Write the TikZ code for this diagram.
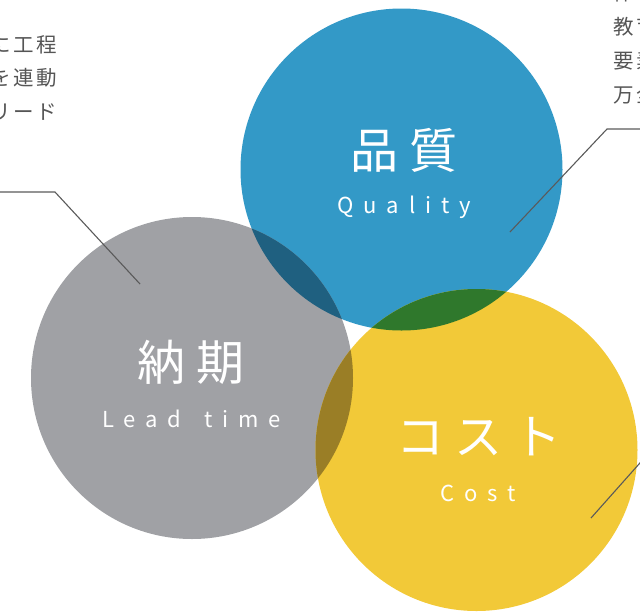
\documentclass[tikz,border=0pt]{standalone}
\usepackage{fontspec}
\setmainfont{Noto Sans CJK JP}
\newfontfamily\jpfont{Noto Sans CJK JP}
\definecolor{cblue}{HTML}{3399C7}
\definecolor{cgray}{HTML}{A0A1A5}
\definecolor{cyellow}{HTML}{F2C938}
\definecolor{cbluegray}{HTML}{1F6080}
\definecolor{cblueyellow}{HTML}{2F782C}
\definecolor{cgrayyellow}{HTML}{9A7E26}
\definecolor{ctext}{HTML}{555555}
\definecolor{cline}{HTML}{5A5A5A}
\tikzset{
  bigcircle/.style={circle, inner sep=0pt, minimum size=322pt, draw=none},
  headjp/.style={text=white, inner sep=0pt, font=\fontsize{48}{50}\selectfont\addfontfeature{LetterSpace=22}},
  heden/.style={text=white, inner sep=0pt, anchor=base, font=\fontsize{22}{24}\selectfont\addfontfeature{LetterSpace=45}},
  body/.style={text=ctext, inner sep=0pt, font=\fontsize{20.5}{22}\selectfont\addfontfeature{LetterSpace=12}},
  leader/.style={draw=cline, line width=1.1pt}
}
\begin{document}
\begin{tikzpicture}[x=1pt,y=-1pt]
\useasboundingbox (0,0) rectangle (640,611);
\clip (0,0) rectangle (640,611);
% circles
\node[bigcircle, fill=cblue] (q) at (401.5,169.5) {};
\node[bigcircle, fill=cgray] (l) at (192,378) {};
\node[bigcircle, fill=cyellow] (c) at (476.5,450) {};
% overlaps
\begin{scope}
  \clip (q.center) circle (161);
  \fill[cbluegray] (l.center) circle (161);
  \fill[cblueyellow] (c.center) circle (161);
\end{scope}
\begin{scope}
  \clip (l.center) circle (161);
  \fill[cgrayyellow] (c.center) circle (161);
\end{scope}
% headings
\node[headjp] (qj) at (404,150) {品質};
\node[heden] (qe) at (404,213) {Quality};
\node[headjp] (lj) at (191,362) {納期};
\node[heden, anchor=base west] (le1) at (102,427) {Lead};
\node[heden, anchor=base west] (le2) at (204,427) {time};
\node[headjp] (cj) at (479,437) {コスト};
\node[heden] (ce) at (478,501) {Cost};
% body texts
\node[body, anchor=east] (t1) at (57,45) {に工程};
\node[body, anchor=east] (t2) at (57,78) {を連動};
\node[body, anchor=east] (t3) at (57,112) {リード};
\node[body, anchor=west] (r0) at (613,-7) {体制};
\node[body, anchor=west] (r1) at (613,27) {教育};
\node[body, anchor=west] (r2) at (613,61) {要素};
\node[body, anchor=west] (r3) at (613,95) {万全};
% leader lines
\coordinate (a0) at (0,192);
\coordinate (a1) at (55,192);
\coordinate (a2) at (140,284);
\draw[leader] (a0) -- (a1) -- (a2);
\coordinate (b0) at (642,129);
\coordinate (b1) at (607,129);
\coordinate (b2) at (510,232);
\draw[leader] (b0) -- (b1) -- (b2);
\coordinate (c0) at (643,459.5);
\coordinate (c1) at (591,518);
\draw[leader] (c0) -- (c1);
\end{tikzpicture}
\end{document}
